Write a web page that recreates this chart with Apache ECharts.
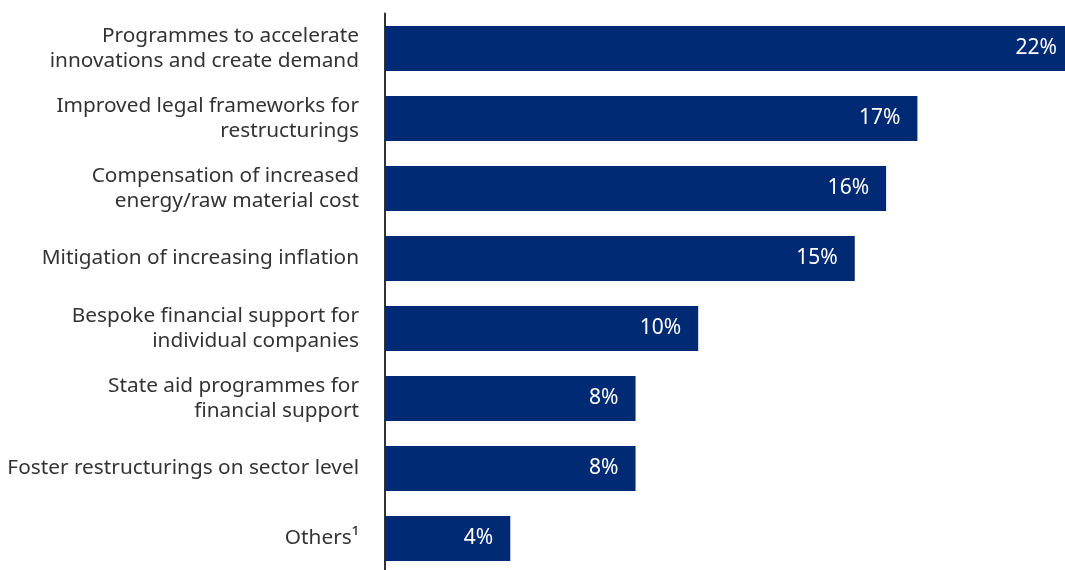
<!DOCTYPE html>
<html><head><meta charset="utf-8">
<script src="https://cdn.jsdelivr.net/npm/echarts@6/dist/echarts.min.js"></script>
<style>html,body{margin:0;padding:0;background:#fff}#c{width:1065px;height:570px}</style>
</head><body><div id="c"></div>
<script>
const categories = [
  "Programmes to accelerate\ninnovations and create demand",
  "Improved legal frameworks for\nrestructurings",
  "Compensation of increased\nenergy/raw material cost",
  "Mitigation of increasing inflation",
  "Bespoke financial support for\nindividual companies",
  "State aid programmes for\nfinancial support",
  "Foster restructurings on sector level",
  "Others¹"
];
const values = [22, 17, 16, 15, 10, 8, 8, 4];

const chart = echarts.init(document.getElementById('c'), null, {renderer: 'canvas'});
chart.setOption({
  animation: false,
  grid: {left: 385, width: 689, top: 13.5, height: 560, containLabel: false, outerBoundsMode: 'none'},
  xAxis: {type: 'value', min: 0, max: 22, show: false},
  yAxis: {
    type: 'category', data: categories, inverse: true,
    axisLine: {show: true, lineStyle: {color: '#333333', width: 2}},
    axisTick: {show: false},
    axisLabel: {
      color: '#333333', fontFamily: 'Noto Sans', fontSize: 20.8, lineHeight: 25,
      margin: 26, align: 'right'
    }
  },
  series: [{
    type: 'bar', data: values, barWidth: 45, clip: false,
    itemStyle: {color: '#002a73'},
    label: {
      show: true, position: 'insideRight', distance: 17,
      formatter: '{c}%', color: '#ffffff', fontFamily: 'Noto Sans', fontSize: 21
    }
  }]
});
</script></body></html>
